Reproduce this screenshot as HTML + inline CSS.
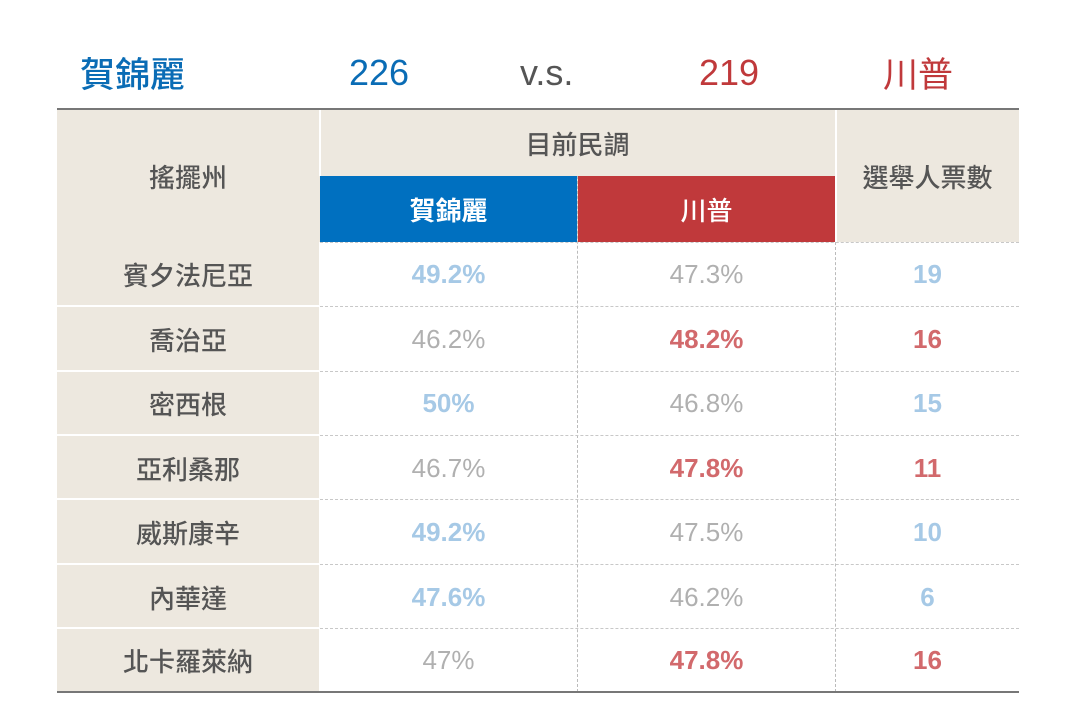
<!DOCTYPE html>
<html><head><meta charset="utf-8"><style>
body{margin:0;width:1077px;height:718px;background:#fff;position:relative;overflow:hidden;font-family:"Liberation Sans","Noto Sans CJK TC",sans-serif}
div{position:absolute;box-sizing:border-box}
.t{top:48px;height:50px;line-height:50px;font-size:36px}
.c{display:flex;align-items:center;justify-content:center}
.bg{background:#ede8df}
.h{color:#555;font-size:26px;font-weight:500}
.n{font-size:26px;color:#b0b0b0}
.b{font-weight:bold;color:#a6c9e6}
.r{font-weight:bold;color:#d2696c}
.rowline{left:320px;width:699px;height:0;border-top:1px dashed #c8c8c8}
.wl{left:57px;width:262px;height:2px;background:#fff}
</style></head><body>
<div class="t" style="left:80px;color:#0a6cb5;font-family:'Noto Sans CJK TC',sans-serif;font-weight:500;font-size:35px">賀錦麗</div>
<div class="t" style="left:349px;color:#0a6cb5;font-weight:500">226</div>
<div class="t" style="left:520px;color:#555">v.s.</div>
<div class="t" style="left:699px;color:#c0393b">219</div>
<div class="t" style="left:883px;color:#c0393b;font-family:'Noto Sans CJK TC',sans-serif;font-size:35px">川普</div>
<div style="left:57px;top:108px;width:962px;height:2px;background:#777"></div>
<div class="bg" style="left:57px;top:110px;width:962px;height:132px"></div>
<div class="bg" style="left:57px;top:242px;width:262px;height:450px"></div>
<div style="left:319px;top:110px;width:2px;height:66px;background:#fff"></div>
<div style="left:835px;top:110px;width:2px;height:132px;background:#fff"></div>
<div class="c h" style="left:57px;top:110px;width:262px;height:132px">搖擺州</div>
<div class="c h" style="left:320px;top:110px;width:515px;height:66px">目前民調</div>
<div class="c h" style="left:836px;top:110px;width:183px;height:132px">選舉人票數</div>
<div class="c" style="left:320px;top:176px;width:257px;height:66px;background:#0070c0;color:#fff;font-size:26px;font-weight:bold">賀錦麗</div>
<div class="c" style="left:578px;top:176px;width:257px;height:66px;background:#c0393b;color:#fff;font-size:26px;font-weight:500">川普</div>
<div style="left:577px;top:176px;width:0;height:516px;border-left:1px dashed #bbb"></div>
<div style="left:835px;top:242px;width:0;height:450px;border-left:1px dashed #bbb"></div>
<div class="rowline" style="top:242px"></div>
<div class="rowline" style="top:306px"></div><div class="wl" style="top:305px"></div>
<div class="rowline" style="top:371px"></div><div class="wl" style="top:370px"></div>
<div class="rowline" style="top:435px"></div><div class="wl" style="top:434px"></div>
<div class="rowline" style="top:499px"></div><div class="wl" style="top:498px"></div>
<div class="rowline" style="top:564px"></div><div class="wl" style="top:563px"></div>
<div class="rowline" style="top:628px"></div><div class="wl" style="top:627px"></div>
<div style="left:57px;top:691px;width:962px;height:2px;background:#777"></div>

<div class="c h" style="left:57px;top:242px;width:262px;height:64px">賓夕法尼亞</div>
<div class="c n b" style="left:320px;top:242px;width:257px;height:64px">49.2%</div>
<div class="c n" style="left:578px;top:242px;width:257px;height:64px">47.3%</div>
<div class="c n b" style="left:836px;top:242px;width:183px;height:64px">19</div>

<div class="c h" style="left:57px;top:307px;width:262px;height:64px">喬治亞</div>
<div class="c n" style="left:320px;top:307px;width:257px;height:64px">46.2%</div>
<div class="c n r" style="left:578px;top:307px;width:257px;height:64px">48.2%</div>
<div class="c n r" style="left:836px;top:307px;width:183px;height:64px">16</div>

<div class="c h" style="left:57px;top:371px;width:262px;height:64px">密西根</div>
<div class="c n b" style="left:320px;top:371px;width:257px;height:64px">50%</div>
<div class="c n" style="left:578px;top:371px;width:257px;height:64px">46.8%</div>
<div class="c n b" style="left:836px;top:371px;width:183px;height:64px">15</div>

<div class="c h" style="left:57px;top:436px;width:262px;height:64px">亞利桑那</div>
<div class="c n" style="left:320px;top:436px;width:257px;height:64px">46.7%</div>
<div class="c n r" style="left:578px;top:436px;width:257px;height:64px">47.8%</div>
<div class="c n r" style="left:836px;top:436px;width:183px;height:64px">11</div>

<div class="c h" style="left:57px;top:500px;width:262px;height:64px">威斯康辛</div>
<div class="c n b" style="left:320px;top:500px;width:257px;height:64px">49.2%</div>
<div class="c n" style="left:578px;top:500px;width:257px;height:64px">47.5%</div>
<div class="c n b" style="left:836px;top:500px;width:183px;height:64px">10</div>

<div class="c h" style="left:57px;top:565px;width:262px;height:64px">內華達</div>
<div class="c n b" style="left:320px;top:565px;width:257px;height:64px">47.6%</div>
<div class="c n" style="left:578px;top:565px;width:257px;height:64px">46.2%</div>
<div class="c n b" style="left:836px;top:565px;width:183px;height:64px">6</div>

<div class="c h" style="left:57px;top:629px;width:262px;height:63px">北卡羅萊納</div>
<div class="c n" style="left:320px;top:629px;width:257px;height:63px">47%</div>
<div class="c n r" style="left:578px;top:629px;width:257px;height:63px">47.8%</div>
<div class="c n r" style="left:836px;top:629px;width:183px;height:63px">16</div>
</body></html>
